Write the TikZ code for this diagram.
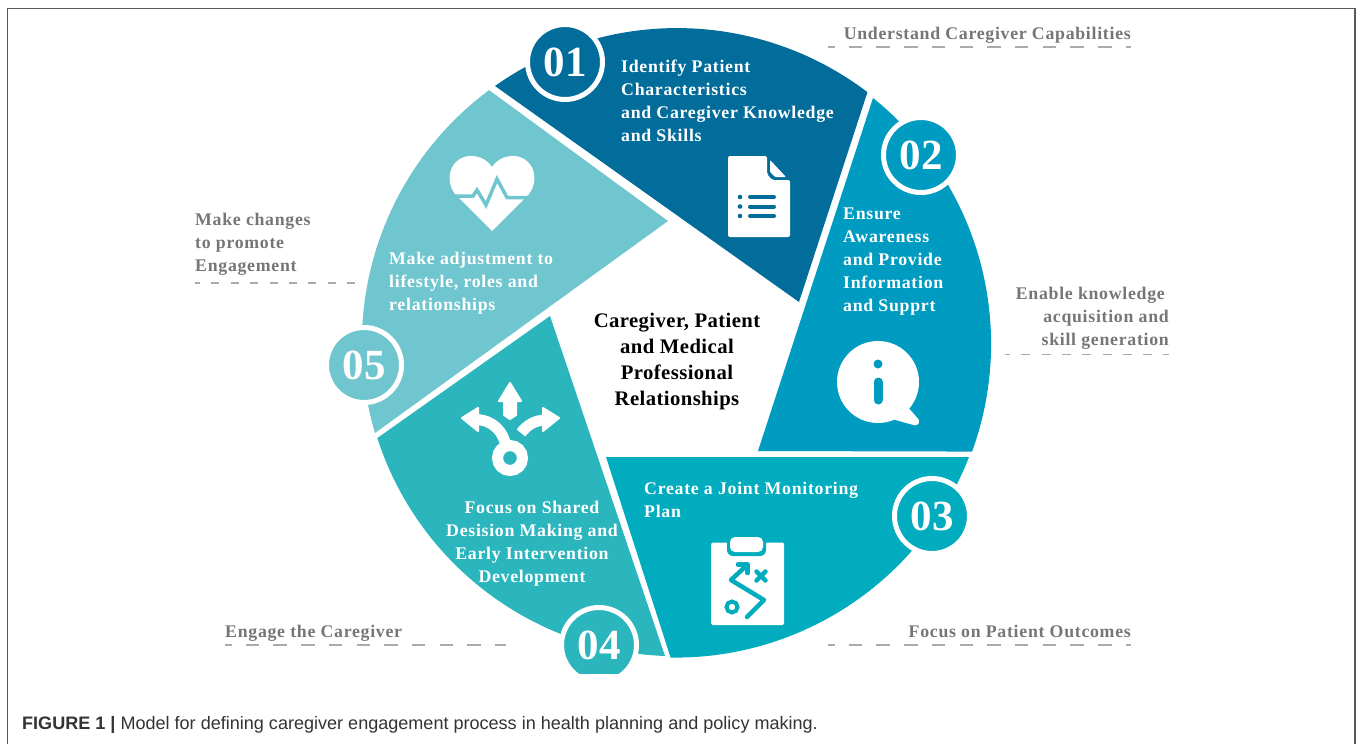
\documentclass[tikz,border=0pt]{standalone}
\usepackage{fontspec}
\setmainfont{Liberation Serif}
\newfontfamily\capfont{Liberation Sans}
\newfontfamily\lblfont[LetterSpace=4]{Liberation Serif}
\newfontfamily\midfont[LetterSpace=2]{Liberation Serif}
\definecolor{colone}{RGB}{2,108,155}
\definecolor{coltwo}{RGB}{0,155,192}
\definecolor{colthree}{RGB}{0,172,189}
\definecolor{colfour}{RGB}{43,182,189}
\definecolor{colfive}{RGB}{112,198,206}
\definecolor{sidegray}{RGB}{118,118,118}
\definecolor{dashgray}{RGB}{170,170,170}
\tikzset{
	steptext/.style={text=white,inner sep=0pt,font=\lblfont\bfseries\fontsize{17.8}{23}\selectfont},
	sidetext/.style={text=sidegray,inner sep=0pt,font=\lblfont\bfseries\fontsize{17.8}{23}\selectfont},
	midtext/.style={text=black,inner sep=0pt,align=center,font=\midfont\bfseries\fontsize{20.7}{26}\selectfont},
	badge/.style={circle,draw=white,line width=5pt,minimum size=75pt,inner sep=0pt,text=white,font=\bfseries\fontsize{43}{43}\selectfont},
	dashlong/.style={dashgray,line width=1.2pt,dash pattern=on 13.5pt off 14.2pt,dash phase=7pt},
	dashshort/.style={dashgray,line width=1.2pt,dash pattern=on 9pt off 11.3pt,dash phase=4pt},
	iconline/.style={line width=4.5pt,line cap=round,line join=round}
}
\begin{document}
\begin{tikzpicture}[x=1pt,y=-1pt]
	\useasboundingbox (0,0) rectangle (1358,744);
	\draw[black!65,line width=1.5pt] (7.5,744) -- (7.5,8.5) -- (1355,8.5) -- (1355,744);
	\fill[colone] (495,86) arc[start angle=-125.3,end angle=-52.8,radius=315] -- (799,302) -- cycle;
	\fill[coltwo] (873,98) arc[start angle=-51.3,end angle=20,radius=315] -- (758,451) -- cycle;
	\fill[colthree] (969,457) arc[start angle=21.3,end angle=90.9,radius=315] -- (606,457) -- cycle;
	\fill[colfour] (665,656) arc[start angle=92.2,end angle=162.1,radius=315] -- (550,316) -- cycle;
	\fill[colfive] (375,433) arc[start angle=163.4,end angle=233.4,radius=315] -- (668,221) -- cycle;
	\node[badge,fill=colone] (badgeone) at (565,62) {01};
	\node[badge,fill=coltwo] (badgetwo) at (921,155) {02};
	\node[badge,fill=colthree] (badgethree) at (932,516) {03};
	\node[badge,fill=colfour] (badgefour) at (599,645) {04};
	\node[badge,fill=colfive] (badgefive) at (364,365) {05};
	\fill[white] (550,674) rectangle (650,690);
	\node[steptext,anchor=north west,align=left] (stepone) at (621,60) {Identify Patient\\Characteristics\\and Caregiver Knowledge\\and Skills};
	\node[steptext,anchor=north west,align=left] (steptwo) at (843,208) {Ensure\\Awareness\\and Provide\\Information\\and Supprt};
	\node[steptext,anchor=north west,align=left] (stepthree) at (644,482) {Create a Joint Monitoring\\Plan};
	\node[steptext,anchor=north,align=center] (stepfour) at (532,501) {Focus on Shared\\Desision Making and\\Early Intervention\\Development};
	\node[steptext,anchor=north west,align=left] (stepfive) at (389,252) {Make adjustment to\\lifestyle, roles and\\relationships};
	\node[midtext] (middle) at (677,362) {Caregiver, Patient\\and Medical\\Professional\\Relationships};
	\node[sidetext,anchor=north east] (sideone) at (1131,27) {Understand Caregiver Capabilities};
	\node[sidetext,anchor=north east,align=right] (sidetwo) at (1169,287) {Enable knowledge\hspace*{4pt}\\acquisition and\\skill generation};
	\node[sidetext,anchor=north east] (sidethree) at (1131,625) {Focus on Patient Outcomes};
	\node[sidetext,anchor=north west] (sidefour) at (225,625) {Engage the Caregiver};
	\node[sidetext,anchor=north west,align=left] (sidefive) at (195,213) {Make changes\\to promote\\Engagement};
	\coordinate (leadonea) at (828,47);
	\coordinate (leadoneb) at (1131,47);
	\coordinate (leadtwoa) at (1005,354.5);
	\coordinate (leadtwob) at (1169,354.5);
	\coordinate (leadthreea) at (828,645);
	\coordinate (leadthreeb) at (1131,645);
	\coordinate (leadfoura) at (225,645);
	\coordinate (leadfourb) at (506,645);
	\coordinate (leadfivea) at (195,283);
	\coordinate (leadfiveb) at (355,283);
	\draw[dashlong] (leadonea) -- (leadoneb);
	\draw[dashshort] (leadtwoa) -- (leadtwob);
	\draw[dashlong] (leadthreea) -- (leadthreeb);
	\draw[dashlong] (leadfoura) -- (leadfourb);
	\draw[dashshort,dash pattern=on 8pt off 11.4pt,dash phase=3pt] (leadfivea) -- (leadfiveb);
	\fill[white,rounded corners=2pt] (728,156) -- (767,156) -- (767,174) -- (772,180) -- (790,180) -- (790,237) -- (728,237) -- cycle;
	\fill[white,rounded corners=1pt] (770,160) -- (786,177) -- (775,177) -- (770,172) -- cycle;
	\foreach \yy in {197,206.5,216} {
		\fill[colone] (740,\yy) circle (2.3);
		\draw[colone,line width=4pt,line cap=round] (750,\yy) -- (774,\yy);
	}
	\fill[white] (878,382) circle (41);
	\fill[white,rounded corners=2pt] (885,417) -- (917,426) -- (920,421) -- (906,405) -- cycle;
	\fill[coltwo] (878,364) circle (4.5);
	\draw[coltwo,line width=9pt,line cap=round] (878,382) -- (878,400);
	\fill[white,rounded corners=1.5pt] (711,542.5) rectangle (784,625);
	\fill[colthree,rounded corners=6pt] (727,530) rectangle (766,556);
	\fill[white,rounded corners=5pt] (730,537) rectangle (763,552);
	\draw[colthree,iconline] (747,617) -- (764,600) -- (731,580) -- (746,566);
	\draw[colthree,iconline] (738,564.5) -- (747.5,564.5) -- (747.5,573);
	\draw[colthree,line width=4pt] (732,607) circle (5.5);
	\draw[colthree,iconline] (756.5,571.5) -- (765.5,580.5) (765.5,571.5) -- (756.5,580.5);
	\draw[white,line width=11pt] (510,458) circle (12.5);
	\fill[white,draw=white,line width=2pt,line join=round] (510,383) -- (521,401) -- (516,401) -- (516,415) -- (510,419) -- (504,415) -- (504,401) -- (499,401) -- cycle;
	\draw[white,line width=11pt] (476,419.5) .. controls (493,420) and (504,432) .. (506,447);
	\fill[white,draw=white,line width=2pt,line join=round] (462,418) -- (478,408) -- (478,431) -- cycle;
	\draw[white,line width=11pt] (521,433) .. controls (527,425) and (535,420) .. (546,420);
	\fill[white,draw=white,line width=2pt,line join=round] (559,418) -- (543,408) -- (543,431) -- cycle;
	\fill[white] (492,231) -- (455,194) .. controls (443,178) and (452,156) .. (471,156) .. controls (481,156) and (488,161) .. (492,167) .. controls (496,161) and (503,156) .. (513,156) .. controls (532,156) and (541,178) .. (529,194) -- cycle;
	\draw[colfive,line width=3.5pt,line join=miter] (445,196) -- (473,196) -- (477,190) -- (486,205) -- (497,179) -- (507,197.5) -- (540,197.5);
	\node[anchor=west,inner sep=0pt,text=black!80,font=\capfont\fontsize{18.05}{20}\selectfont] (caption) at (22,725) {\textbf{FIGURE 1 |} Model for defining caregiver engagement process in health planning and policy making.};
\end{tikzpicture}
\end{document}
